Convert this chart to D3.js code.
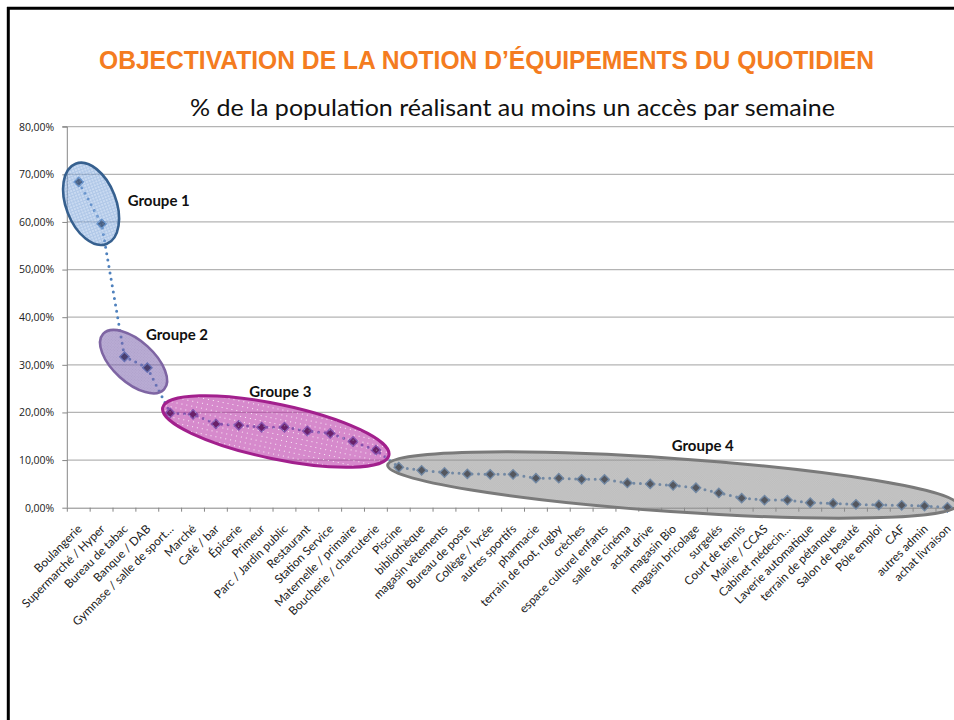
<!DOCTYPE html>
<html><head><meta charset="utf-8">
<script src="https://cdn.jsdelivr.net/npm/d3@7"></script>
<style>
html,body{margin:0;padding:0;background:#fff;overflow:hidden;}
svg{display:block;}
</style></head>
<body>
<script>
const titleText = "OBJECTIVATION DE LA NOTION D\u2019\u00C9QUIPEMENTS DU QUOTIDIEN";
const subtitleText = "% de la population r\u00E9alisant au moins un acc\u00E8s par semaine";

const categories = ["Boulangerie","Supermarch\u00E9 / Hyper","Bureau de tabac","Banque / DAB","Gymnase / salle de sport\u2026","March\u00E9","Caf\u00E9 / bar","\u00C9picerie","Primeur","Parc / Jardin public","Restaurant","Station Service","Maternelle / primaire","Boucherie / charcuterie","Piscine","biblioth\u00E8que","magasin v\u00EAtements","Bureau de poste","Coll\u00E8ge / lyc\u00E9e","autres sportifs","pharmacie","terrain de foot, rugby","cr\u00E8ches","espace culturel enfants","salle de cin\u00E9ma","achat drive","magasin Bio","magasin bricolage","surgel\u00E9s","Court de tennis","Mairie / CCAS","Cabinet m\u00E9decin\u2026","Laverie automatique","terrain de p\u00E9tanque","Salon de beaut\u00E9","P\u00F4le emploi","CAF","autres admin","achat livraison"];

const values = [68.4,59.6,31.7,29.4,19.9,19.6,17.6,17.3,16.9,16.9,16.1,15.6,13.9,12.1,8.5,7.85,7.4,7.1,7.0,7.0,6.2,6.2,5.95,5.95,5.2,5.0,4.7,4.2,3.1,2.0,1.6,1.6,1.05,0.9,0.7,0.57,0.5,0.36,0.08];

const yTicks = [0,10,20,30,40,50,60,70,80];

// group annotations (position in data units: fractional category index, value in %)
const groupNames = ["Groupe 1","Groupe 2","Groupe 3","Groupe 4"];
const groupCenterIdx = [0.54, 2.40, 8.62, 25.97];
const groupCenterVal = [63.8, 30.66, 16.0, 4.77];
const groupLabelIdx = [2.14, 2.94, 7.46, 25.94];
const groupLabelVal = [64.6, 36.5, 24.5, 13.2];

// ---------- drawing ----------
const W = 954, H = 720;
const plot = {left: 67.3, top: 126.7, bottom: 507.7, step: 22.86};
const ellStyle = [
  {rx:43, ry:25, rot:68.9, pat:"p1", stroke:"#36608f", sw:2.6},
  {rx:41.2, ry:20.7, rot:42.3, pat:"p2", stroke:"#7e65a3", sw:2.6},
  {rx:115.6, ry:27.3, rot:11.9, pat:"p3", stroke:"#a2208d", sw:3},
  {rx:285.4, ry:26.6, rot:3.98, pat:"p4", stroke:"#7a7a7a", sw:3}
];

const svg = d3.select("body").append("svg").attr("width", W).attr("height", H);

const defs = svg.append("defs");
function makePattern(id, size, base, draw){
  const p = defs.append("pattern").attr("id", id).attr("patternUnits","userSpaceOnUse")
    .attr("width", size).attr("height", size);
  p.append("rect").attr("width", size).attr("height", size).attr("fill", base);
  draw(p);
}
makePattern("p1", 3, "#9dbce6", p => {
  p.append("rect").attr("x",0).attr("y",0).attr("width",3).attr("height",1).attr("fill","#6f9ad4");
  p.append("rect").attr("x",0).attr("y",0).attr("width",1).attr("height",3).attr("fill","#6f9ad4");
});
makePattern("p2", 2, "#7f67b0", p => {
  p.append("rect").attr("x",0).attr("y",0).attr("width",1).attr("height",1).attr("fill","#6c539f");
});
makePattern("p3", 5, "#b52aa2", p => {
  p.append("rect").attr("x",2).attr("y",2).attr("width",1).attr("height",1).attr("fill","#f6e0f2");
});
makePattern("p4", 2, "#959595", p => {
  p.append("rect").attr("x",0).attr("y",0).attr("width",1).attr("height",1).attr("fill","#878787");
  p.append("rect").attr("x",1).attr("y",1).attr("width",1).attr("height",1).attr("fill","#878787");
});

// frame
svg.append("line").attr("x1",7).attr("x2",W).attr("y1",8.3).attr("y2",8.3).attr("stroke","#000").attr("stroke-width",3);
svg.append("line").attr("x1",8.3).attr("x2",8.3).attr("y1",7).attr("y2",H).attr("stroke","#000").attr("stroke-width",3);

// titles
svg.append("text").attr("x",99).attr("y",69).text(titleText)
  .attr("font-family","'Liberation Sans Narrow','Arial Narrow','Liberation Sans',sans-serif")
  .attr("font-weight","bold").attr("font-size",26).attr("fill","#f47c20")
  .attr("textLength",775).attr("lengthAdjust","spacingAndGlyphs");
svg.append("text").attr("x",190).attr("y",116).text(subtitleText)
  .attr("font-family","Lato,'Open Sans',sans-serif").attr("font-size",24).attr("fill","#111")
  .attr("textLength",645).attr("lengthAdjust","spacingAndGlyphs");

// scales
const x = d3.scaleBand().domain(categories)
  .range([plot.left, plot.left + plot.step*categories.length]).padding(0);
const y = d3.scaleLinear().domain([0,80]).range([plot.bottom, plot.top]);
const cx = d => x(d) + x.bandwidth()/2;
const xAt = i => x(categories[0]) + x.bandwidth()/2 + i*x.step();

// gridlines
svg.append("g").selectAll("line").data(yTicks.filter(t=>t>0)).join("line")
  .attr("x1", plot.left).attr("x2", W).attr("y1", d=>y(d)).attr("y2", d=>y(d))
  .attr("stroke","#b4b4b4").attr("stroke-width",1.2);

// y axis
const yAxis = svg.append("g").attr("transform",`translate(${plot.left},0)`)
  .call(d3.axisLeft(y).tickValues(yTicks).tickSize(5).tickPadding(8)
    .tickFormat(d => d.toFixed(2).replace(".",",") + "%"));
yAxis.select(".domain").attr("stroke","#868686").attr("d",`M-5,${plot.top}H0V${plot.bottom}`);
yAxis.selectAll(".tick line").attr("stroke","#868686");
yAxis.selectAll("text").attr("font-family","'Open Sans',Lato,sans-serif").attr("font-size",10.5)
  .attr("fill","#222");

// x axis
const xAxis = svg.append("g").attr("transform",`translate(0,${plot.bottom})`)
  .call(d3.axisBottom(x).tickSize(0));
xAxis.select(".domain").attr("stroke","#868686").attr("d",`M${plot.left},0.5H${W}`);
xAxis.selectAll(".tick text")
  .attr("text-anchor","end")
  .attr("font-family","Lato,'Open Sans',sans-serif").attr("font-size",11.8).attr("fill","#222")
  .attr("y",0).attr("dy",0)
  .attr("transform","translate(4,22) rotate(-45)");
// boundary ticks
xAxis.append("g").selectAll("line").data(categories).join("line")
  .attr("x1", d=>x(d)).attr("x2", d=>x(d)).attr("y1",0).attr("y2",4)
  .attr("stroke","#868686");

// series line (dotted)
const line = d3.line().x((d,i)=>cx(categories[i])).y(d=>y(d));
svg.append("path").datum(values).attr("d", line)
  .attr("fill","none").attr("stroke","#4f81bd").attr("stroke-width",3)
  .attr("stroke-dasharray","0 6.5").attr("stroke-linecap","round");

// markers
svg.append("g").selectAll("path").data(values).join("path")
  .attr("d", d3.symbol().type(d3.symbolSquare).size(44))
  .attr("transform",(d,i)=>`translate(${cx(categories[i])},${y(d)}) rotate(45)`)
  .attr("fill","#0e1424").attr("stroke","#4f81bd").attr("stroke-width",1.4);

// group ellipses
const eg = svg.append("g");
groupNames.forEach((g,k)=>{
  const s = ellStyle[k];
  eg.append("ellipse")
    .attr("transform",`translate(${xAt(groupCenterIdx[k])},${y(groupCenterVal[k])}) rotate(${s.rot})`)
    .attr("rx", s.rx).attr("ry", s.ry)
    .attr("fill",`url(#${s.pat})`).attr("fill-opacity",0.55)
    .attr("stroke", s.stroke).attr("stroke-width", s.sw);
  eg.append("text").attr("x", xAt(groupLabelIdx[k])).attr("y", y(groupLabelVal[k]))
    .attr("dominant-baseline","central")
    .attr("font-family","Lato,'Open Sans',sans-serif").attr("font-weight","bold")
    .attr("font-size",15).attr("fill","#111").text(g);
});
</script>
</body></html>
